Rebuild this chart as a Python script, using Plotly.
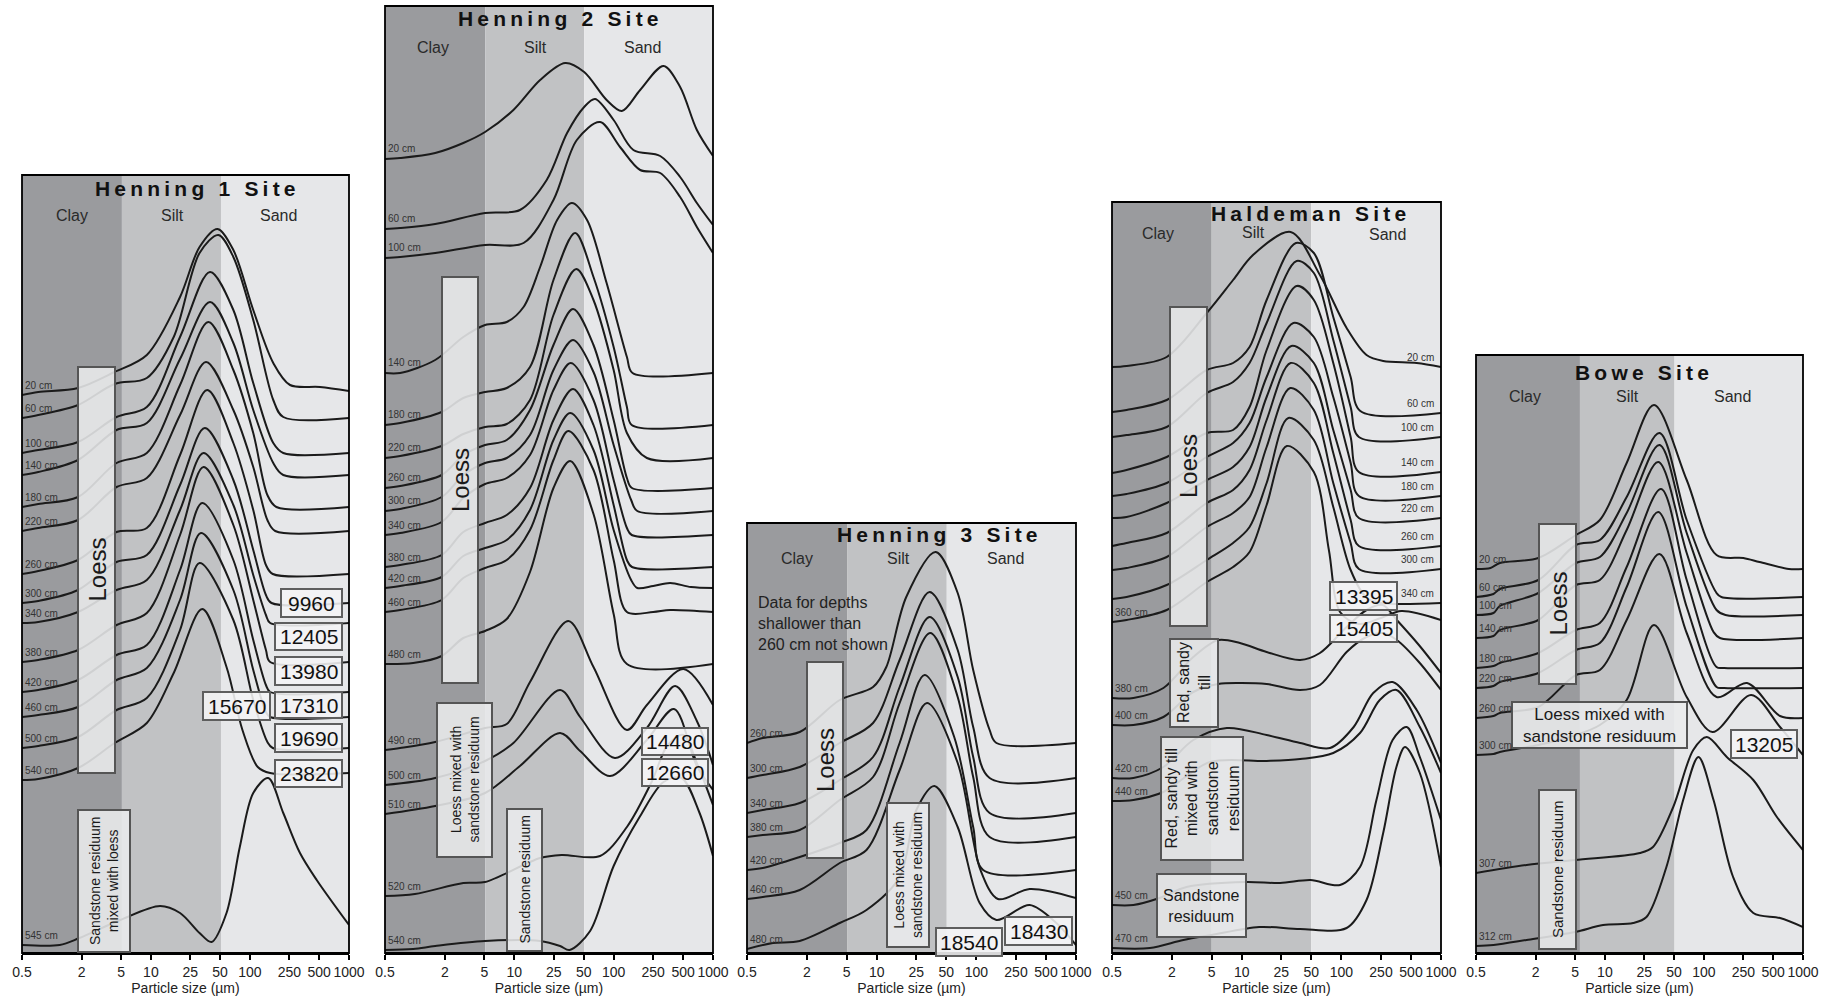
import math
import plotly.graph_objects as go

FONT = "Liberation Sans, Arial, sans-serif"
PAGE_W, PAGE_H = 1834, 996
AXIS_Y = 953  # page row of the shared particle-size axis

TICKS = [0.5, 2, 5, 10, 25, 50, 100, 250, 500, 1000]
TICK_TEXT = ["0.5", "2", "5", "10", "25", "50", "100", "250", "500", "1000"]

# ---------------- Henning 1 Site ----------------
H1_LABELS = ["20 cm", "60 cm", "100 cm", "140 cm", "180 cm", "220 cm", "260 cm",
             "300 cm", "340 cm", "380 cm", "420 cm", "460 cm", "500 cm", "540 cm", "545 cm"]
H1_X = [
    [0.5, 0.73, 1.84, 4.3, 9.1, 19.7, 31, 47, 68, 108, 172, 254, 509, 1000],
    [0.5, 0.73, 1.84, 4.3, 9.1, 17, 31, 48, 68, 108, 172, 217, 1000],
    [0.5, 0.73, 1.84, 4.5, 9.1, 19.7, 39.5, 68, 108, 172, 217, 1000],
    [0.5, 0.73, 1.84, 4.5, 9.1, 19.7, 39.5, 68, 108, 172, 217, 1000],
    [0.5, 0.73, 1.84, 4.5, 9.1, 19.7, 38, 68, 108, 150, 185, 1000],
    [0.5, 0.73, 1.84, 4.5, 9.1, 19.7, 36, 68, 108, 150, 180, 1000],
    [0.5, 0.73, 1.84, 4.5, 9.1, 19.7, 37, 68, 108, 145, 170, 1000],
    [0.5, 0.73, 1.84, 4.5, 9.1, 19.7, 35, 68, 108, 145, 165, 1000],
    [0.5, 0.73, 1.84, 4.5, 9.1, 19.7, 34, 68, 108, 145, 160, 1000],
    [0.5, 0.73, 1.84, 4.5, 9.1, 19.7, 34, 68, 108, 145, 160, 1000],
    [0.5, 0.73, 1.84, 4.5, 9.1, 19.7, 33, 68, 108, 145, 160, 1000],
    [0.5, 0.73, 1.84, 4.5, 9.1, 19.7, 32, 68, 108, 145, 160, 1000],
    [0.5, 0.73, 1.84, 4.5, 9.1, 19.7, 31, 68, 108, 150, 170, 1000],
    [0.5, 0.73, 1.84, 4.3, 9.1, 17, 33, 58, 84, 120, 160, 1000],
    [0.5, 1.2, 1.9, 4.9, 12.4, 19.7, 31, 41, 58, 79, 108, 153, 217, 320, 472, 1000],
]
H1_V = [
    [558, 561, 565, 581, 598, 656, 706, 724, 703, 643, 590, 568, 566, 562],
    [535, 538, 548, 569, 575, 616, 700, 718, 696, 633, 553, 536, 535],
    [500, 503, 511, 536, 546, 616, 681, 643, 570, 510, 500, 500],
    [478, 481, 493, 523, 530, 594, 651, 610, 543, 490, 478, 478],
    [446, 449, 456, 490, 500, 568, 631, 583, 520, 458, 446, 446],
    [422, 425, 433, 466, 475, 538, 591, 543, 486, 433, 422, 422],
    [379, 382, 393, 421, 425, 498, 563, 510, 443, 388, 379, 379],
    [350, 352, 363, 391, 398, 468, 525, 473, 403, 358, 350, 350],
    [330, 331, 341, 363, 373, 443, 500, 448, 378, 338, 330, 330],
    [291, 293, 303, 328, 340, 418, 486, 428, 353, 303, 291, 291],
    [261, 263, 273, 298, 308, 383, 450, 393, 313, 268, 261, 261],
    [236, 238, 246, 273, 285, 353, 420, 363, 283, 241, 236, 236],
    [205, 207, 216, 243, 255, 323, 390, 333, 253, 211, 205, 205],
    [173, 174, 185, 210, 230, 280, 344, 286, 223, 186, 180, 180],
    [8, 8, 15, 33, 47, 40, 20, 11, 40, 106, 160, 175, 140, 100, 73, 28],
]

# ---------------- Henning 2 Site ----------------
H2_LABELS = ["20 cm", "60 cm", "100 cm", "140 cm", "180 cm", "220 cm", "260 cm", "300 cm",
             "340 cm", "380 cm", "420 cm", "460 cm", "480 cm", "490 cm", "500 cm", "510 cm",
             "520 cm", "540 cm"]
H2_X = [
    [0.5, 0.71, 1.6, 3.07, 5.08, 9.8, 18.2, 32.5, 50.5, 85, 121, 185, 318, 467, 688, 1000],
    [0.5, 0.71, 1.6, 5.08, 11.4, 21.2, 34, 50.5, 65, 100, 158, 294, 467, 688, 1000],
    [0.5, 0.71, 1.6, 5.08, 12.4, 24.8, 42.6, 73, 116, 185, 294, 467, 688, 1000],
    [0.5, 0.71, 1.6, 3.07, 5.08, 8.4, 12.4, 18.2, 27, 38, 54, 85, 136, 155, 1000],
    [0.5, 0.71, 1.86, 3.07, 5.08, 8.4, 14.4, 24.8, 41, 62.7, 100, 136, 152, 1000],
    [0.5, 0.71, 1.86, 3.07, 5.08, 8.4, 14.4, 24.8, 42, 62.7, 100, 136, 216, 1000],
    [0.5, 0.71, 1.86, 3.07, 5.08, 8.4, 14.4, 24.8, 39, 62.7, 100, 136, 153, 1000],
    [0.5, 0.71, 1.86, 3.07, 5.08, 8.4, 14.4, 24.8, 39, 62.7, 100, 150, 173, 1000],
    [0.5, 0.71, 1.86, 3.07, 5.08, 8.4, 14.4, 24.8, 37, 62.7, 100, 136, 152, 1000],
    [0.5, 0.71, 1.86, 3.07, 5.08, 8.4, 14.4, 24.8, 39, 62.7, 100, 136, 153, 1000],
    [0.5, 0.71, 1.86, 3.07, 5.08, 8.4, 14.4, 24.8, 36.5, 62.7, 100, 150, 173, 250, 371, 600, 1000],
    [0.5, 0.71, 1.86, 3.07, 5.08, 8.4, 14.4, 24.8, 35, 62.7, 100, 136, 250, 371, 1000],
    [0.5, 0.96, 1.86, 3.07, 5.08, 8.4, 14.4, 24.8, 36.5, 62.7, 100, 136, 1000],
    [0.5, 0.71, 1.6, 5.08, 8.4, 14.4, 35, 62.7, 136, 216, 504, 1000],
    [0.5, 1.6, 5.08, 9.8, 28.9, 46, 103, 216, 416, 688, 1000],
    [0.5, 1.6, 5.08, 11.4, 28.9, 46, 92, 216, 405, 688, 1000],
    [0.5, 1.0, 3.07, 5.08, 18.2, 30, 73, 136, 241, 350, 500, 700, 1000],
    [0.5, 0.96, 1.6, 5.08, 18.2, 28.9, 36, 58, 100, 185, 318, 482, 726, 1000],
]
H2_V = [
    [794, 795, 800, 810, 821, 843, 873, 890, 881, 853, 842, 863, 887, 866, 823, 797],
    [724, 725, 729, 740, 743, 773, 820, 846, 854, 833, 803, 797, 776, 750, 728],
    [695, 696, 700, 708, 710, 753, 813, 831, 806, 783, 780, 756, 726, 700],
    [580, 580, 593, 616, 628, 631, 646, 686, 733, 750, 733, 670, 596, 580, 580],
    [528, 530, 541, 555, 561, 565, 586, 673, 720, 676, 606, 546, 528, 528],
    [495, 497, 507, 519, 526, 529, 553, 638, 684, 653, 583, 520, 495, 495],
    [465, 467, 478, 498, 508, 513, 543, 608, 644, 608, 533, 475, 465, 465],
    [442, 444, 456, 478, 490, 495, 518, 583, 613, 581, 508, 453, 442, 442],
    [418, 420, 431, 455, 469, 475, 498, 563, 590, 553, 473, 425, 418, 418],
    [386, 388, 398, 421, 430, 438, 465, 533, 564, 528, 448, 393, 386, 386],
    [365, 367, 376, 397, 405, 413, 443, 513, 540, 503, 423, 373, 365, 367, 370, 366, 365],
    [341, 343, 353, 375, 385, 393, 423, 493, 522, 483, 393, 341, 341, 343, 341],
    [289, 290, 297, 315, 322, 334, 381, 465, 492, 439, 339, 289, 289],
    [203, 205, 211, 225, 229, 271, 332, 286, 223, 248, 284, 248],
    [168, 175, 192, 210, 263, 236, 195, 225, 267, 232, 188],
    [139, 147, 160, 187, 220, 202, 177, 213, 244, 187, 163],
    [57, 59, 70, 71, 95, 98, 97, 126, 171, 208, 218, 188, 148],
    [3, 4, 7, 12, 12, 7, 3, 22, 87, 137, 171, 175, 141, 97],
]

# ---------------- Henning 3 Site ----------------
H3_LABELS = ["260 cm", "300 cm", "340 cm", "380 cm", "420 cm", "460 cm", "480 cm"]
H3_X = [
    [0.5, 0.72, 1.69, 4.26, 9.2, 12.5, 19.8, 39, 65, 93, 136, 159, 1000],
    [0.5, 0.72, 1.69, 4.26, 9.2, 17, 34, 65, 93, 136, 1000],
    [0.5, 0.72, 1.69, 4.26, 9.2, 17, 34, 65, 93, 136, 1000],
    [0.5, 0.72, 1.69, 4.26, 9.2, 17, 34.5, 65, 93, 136, 1000],
    [0.5, 0.72, 1.69, 4.26, 7.9, 17, 30.3, 60, 93, 117, 1000],
    [0.5, 0.72, 1.69, 4.26, 7.9, 17, 32, 65, 110, 165, 343, 1000],
    [0.5, 0.91, 1.69, 4.26, 7.9, 17, 25, 38, 65, 108, 159, 343, 635, 1000],
]
H3_V = [
    [210, 215, 221, 253, 266, 286, 356, 401, 360, 283, 223, 210, 210],
    [175, 178, 186, 210, 230, 293, 361, 303, 226, 175, 175],
    [140, 143, 150, 173, 196, 266, 336, 276, 196, 140, 140],
    [116, 118, 123, 153, 176, 250, 320, 256, 176, 116, 116],
    [83, 85, 96, 110, 123, 210, 278, 216, 126, 83, 83],
    [54, 56, 63, 90, 103, 183, 250, 190, 83, 54, 64, 55],
    [4, 10, 12, 30, 43, 76, 143, 167, 126, 50, 33, 48, 30, 8],
]

# ---------------- Haldeman Site ----------------
HA_LABELS = ["20 cm", "60 cm", "100 cm", "140 cm", "180 cm", "220 cm", "260 cm", "300 cm",
             "340 cm", "360 cm", "380 cm", "400 cm", "420 cm", "440 cm", "450 cm", "470 cm"]
HA_X = [
    [0.5, 0.7, 1.77, 4.46, 8.2, 13, 31, 61, 113, 179, 263, 570, 1000],
    [0.5, 0.7, 1.77, 4.46, 8.2, 12, 17.8, 35, 53, 83, 124, 155, 1000],
    [0.5, 0.7, 1.77, 4.46, 8.2, 12, 17.8, 35.6, 53, 83, 124, 150, 1000],
    [0.5, 0.7, 1.77, 4.46, 8.2, 12, 17.8, 35.6, 53, 83, 124, 150, 1000],
    [0.5, 0.7, 1.77, 4.46, 8.2, 12, 17.8, 33, 53, 83, 124, 150, 1000],
    [0.5, 0.7, 1.77, 4.46, 8.2, 12, 17.8, 31.5, 53, 83, 124, 150, 1000],
    [0.5, 0.7, 1.77, 4.46, 8.2, 12, 17.8, 31, 53, 83, 124, 150, 1000],
    [0.5, 0.7, 1.77, 4.46, 8.2, 12, 17.8, 30.7, 53, 83, 124, 150, 1000],
    [0.5, 0.7, 1.77, 4.46, 8.2, 12, 17.8, 29.4, 53, 83, 124, 180, 250, 1000],
    [0.5, 0.7, 1.77, 4.46, 8.2, 12, 17.8, 28.4, 53, 75, 97, 150, 250, 400, 1000],
    [0.5, 0.82, 1.64, 3.27, 5.8, 9.6, 17.8, 38.6, 61, 113, 179, 260, 360, 600, 1000],
    [0.5, 0.82, 1.64, 3.27, 5.8, 9.6, 17.8, 38.6, 61, 113, 179, 260, 360, 600, 1000],
    [0.5, 0.82, 1.64, 3.27, 7.1, 17.8, 38.6, 77, 133, 209, 327, 570, 1000],
    [0.5, 0.82, 1.64, 4.8, 17.8, 38.6, 83, 154, 243, 357, 613, 1000],
    [0.5, 0.82, 1.5, 2.8, 11, 24.3, 49, 97, 154, 225, 327, 453, 613, 1000],
    [0.5, 1.2, 2.6, 5, 15, 38.6, 113, 179, 263, 357, 435, 613, 1000],
]
HA_V = [
    [586, 587, 596, 640, 673, 698, 721, 678, 625, 598, 592, 590, 586],
    [541, 543, 553, 583, 590, 606, 653, 710, 700, 636, 576, 542, 540],
    [516, 518, 526, 560, 571, 590, 630, 692, 680, 613, 546, 516, 516],
    [480, 483, 496, 520, 523, 546, 603, 667, 653, 590, 516, 481, 481],
    [457, 459, 470, 496, 510, 530, 576, 630, 616, 556, 490, 457, 457],
    [435, 436, 450, 473, 486, 506, 556, 607, 590, 523, 463, 435, 435],
    [407, 410, 420, 450, 463, 483, 533, 590, 570, 500, 433, 407, 407],
    [383, 385, 396, 426, 440, 456, 506, 565, 543, 470, 410, 384, 384],
    [354, 356, 368, 393, 410, 426, 470, 535, 513, 446, 383, 355, 350, 350],
    [331, 333, 343, 371, 386, 401, 448, 507, 481, 403, 341, 329, 335, 342, 333],
    [255, 255, 265, 296, 313, 310, 301, 293, 300, 326, 343, 348, 333, 308, 280],
    [228, 228, 236, 261, 269, 270, 269, 263, 268, 301, 316, 320, 313, 291, 263],
    [175, 175, 186, 213, 225, 218, 210, 205, 226, 260, 271, 243, 190],
    [152, 153, 161, 191, 192, 194, 200, 220, 253, 263, 226, 180],
    [48, 48, 55, 66, 71, 70, 73, 68, 86, 153, 213, 226, 196, 133],
    [5, 5, 13, 18, 26, 24, 25, 53, 120, 186, 206, 180, 86],
]
HA_RIGHT_LABELLED = 9  # the first nine depths are labelled at the sand end

# ---------------- Bowe Site ----------------
BO_LABELS = ["20 cm", "60 cm", "100 cm", "140 cm", "180 cm", "220 cm", "260 cm",
             "300 cm", "307 cm", "312 cm"]
BO_X = [
    [0.5, 0.7, 0.87, 2.13, 5.1, 8.9, 16.6, 31.3, 67, 134, 250, 364, 720, 1000],
    [0.5, 0.75, 0.87, 2.13, 5.1, 8.9, 16.6, 35.5, 67, 134, 150, 1000],
    [0.5, 0.75, 0.87, 2.13, 5.1, 8.9, 16.6, 35.5, 67, 134, 165, 1000],
    [0.5, 0.75, 0.87, 2.13, 5.1, 8.9, 16.6, 34.5, 67, 125, 145, 1000],
    [0.5, 0.75, 0.87, 2.13, 5.1, 8.9, 16.6, 36.8, 67, 134, 160, 1000],
    [0.5, 0.75, 0.87, 2.13, 5.1, 8.9, 16.6, 34.5, 67, 134, 160, 1000],
    [0.5, 0.75, 0.87, 2.13, 5.1, 8.9, 16.6, 35.5, 67, 134, 272, 586, 1000],
    [0.5, 0.75, 0.87, 2.13, 5.1, 8.9, 16.6, 31.3, 67, 122, 300, 586, 1000],
    [0.5, 1.62, 5, 22.6, 30.6, 49, 78, 107, 170, 315, 545, 1000],
    [0.5, 0.75, 1.62, 5, 9.6, 19.3, 26.3, 41.8, 61.7, 88, 125, 197, 315, 586, 1000],
]
BO_V = [
    [384, 385, 390, 395, 418, 433, 490, 548, 473, 398, 395, 391, 384, 384],
    [356, 359, 364, 373, 408, 413, 456, 520, 433, 360, 356, 356],
    [338, 340, 347, 360, 390, 396, 440, 508, 420, 343, 338, 338],
    [315, 317, 323, 333, 368, 373, 423, 491, 400, 321, 315, 315],
    [285, 287, 290, 300, 323, 330, 386, 464, 373, 286, 285, 285],
    [265, 267, 271, 280, 303, 310, 366, 441, 346, 266, 265, 265],
    [235, 237, 240, 246, 278, 283, 333, 399, 320, 256, 270, 237, 235],
    [198, 199, 201, 208, 218, 228, 253, 328, 256, 221, 258, 226, 198],
    [80, 88, 93, 100, 106, 146, 203, 216, 196, 173, 136, 103],
    [7, 8, 13, 21, 28, 30, 36, 86, 153, 196, 153, 76, 40, 35, 26],
]

# Texture class boundaries (µm) as drawn in each panel
CLAY_SILT = [5.1, 5.1, 5.05, 5.0, 5.6]
SILT_SAND = [51, 50.5, 50.5, 50, 50.5]

# ---------------- layout geometry (page pixels) ----------------
PANEL_BOX = [(22, 349, 175), (385, 713, 6), (747, 1076, 523), (1112, 1441, 202), (1476, 1803, 355)]
PANEL_TITLES = ["Henning 1 Site", "Henning 2 Site", "Henning 3 Site", "Haldeman Site", "Bowe Site"]
TITLE_POS = [(195, 188), (558, 18), (938, 534), (1308, 213), (1642, 372)]
CLASS_POS = [
    [(72, 215), (172, 215), (278, 215)],
    [(433, 47), (535, 47), (642, 47)],
    [(797, 558), (898, 558), (1005, 558)],
    [(1158, 233), (1253, 232), (1387, 234)],
    [(1525, 396), (1627, 396), (1732, 396)],
]

CLAY_C, SILT_C, SAND_C = "#9a9b9e", "#c1c2c4", "#e6e7e9"
LINE_C = "#1b1b1b"
BOX_FILL = "rgba(234,235,237,0.87)"
NUM_FILL = "rgba(244,244,245,0.88)"
BOX_EDGE = "#555555"


def px_x(px):
    return px / PAGE_W


def px_y(py):
    return 1 - py / PAGE_H


def spaced(text):
    return "\u2009".join(text)


fig = go.Figure()
shapes, annotations = [], []
layout_axes = {}

panels = [
    (H1_LABELS, H1_X, H1_V),
    (H2_LABELS, H2_X, H2_V),
    (H3_LABELS, H3_X, H3_V),
    (HA_LABELS, HA_X, HA_V),
    (BO_LABELS, BO_X, BO_V),
]

for i, ((left, right, top), (labels, xs, vs)) in enumerate(zip(PANEL_BOX, panels)):
    n = i + 1
    sfx = "" if n == 1 else str(n)
    xa, ya = "x" + sfx, "y" + sfx
    layout_axes["xaxis" + sfx] = dict(
        domain=[px_x(left), px_x(right)], anchor=ya, type="log", automargin=False,
        range=[math.log10(0.5), math.log10(1000)],
        tickvals=TICKS, ticktext=TICK_TEXT, ticks="outside", ticklen=5, tickangle=0,
        tickwidth=1.5, tickcolor="black", showline=True, linecolor="black",
        linewidth=2, showgrid=False, zeroline=False, fixedrange=True,
        tickfont=dict(family=FONT, size=14, color="#222"),
        title=dict(text="Particle size (µm)", font=dict(family=FONT, size=14, color="#222"), standoff=3),
    )
    layout_axes["yaxis" + sfx] = dict(
        domain=[px_y(AXIS_Y), px_y(top)], anchor=xa, range=[0, AXIS_Y - top],
        visible=False, fixedrange=True, automargin=False,
    )

    # clay / silt / sand background bands
    for x0, x1, col in [(0.5, CLAY_SILT[i], CLAY_C), (CLAY_SILT[i], SILT_SAND[i], SILT_C),
                        (SILT_SAND[i], 1000, SAND_C)]:
        shapes.append(dict(type="rect", xref=xa, yref=ya + " domain", x0=x0, x1=x1, y0=0, y1=1,
                           fillcolor=col, line=dict(width=0), layer="below"))
    # panel frame
    shapes.append(dict(type="rect", xref=xa + " domain", yref=ya + " domain", x0=0, x1=1, y0=0, y1=1,
                       line=dict(color="black", width=1.8), fillcolor="rgba(0,0,0,0)", layer="above"))

    # distribution curves
    for k, (lab, x, v) in enumerate(zip(labels, xs, vs)):
        fig.add_trace(go.Scatter(
            x=x, y=v, xaxis=xa, yaxis=ya, mode="lines", name=lab, showlegend=False,
            line=dict(color=LINE_C, width=2, shape="spline", smoothing=0.9),
            hoverinfo="skip",
        ))
        on_right = (i == 3 and k < HA_RIGHT_LABELLED)
        annotations.append(dict(
            text=lab, showarrow=False, xref=xa + " domain", yref=ya,
            x=0.985 if on_right else 0.004, xanchor="right" if on_right else "left",
            y=v[-1] if on_right else v[0], yshift=10, yanchor="middle",
            font=dict(family=FONT, size=10, color="#333"),
        ))

    # site title and texture-class names
    tx, ty = TITLE_POS[i]
    annotations.append(dict(text="<b>" + spaced(PANEL_TITLES[i]) + "</b>", x=px_x(tx), y=px_y(ty),
                            xref="paper", yref="paper", showarrow=False, xanchor="center", yanchor="middle",
                            font=dict(family=FONT, size=21, color="#111")))
    for (cx, cy), name in zip(CLASS_POS[i], ["Clay", "Silt", "Sand"]):
        annotations.append(dict(text=name, x=px_x(cx), y=px_y(cy), xref="paper", yref="paper",
                                showarrow=False, xanchor="center", yanchor="middle",
                                font=dict(family=FONT, size=16, color="#2a2a2a")))

# Lithology boxes: (x0, y0, x1, y1, text, font size, angle)
TEXT_BOXES = [
    (78, 367, 115, 773, "Loess", 24, -90),
    (78, 810, 130, 952, "Sandstone residuum<br>mixed with loess", 14, -90),
    (442, 277, 478, 683, "Loess", 24, -90),
    (437, 703, 492, 857, "Loess mixed with<br>sandstone residuum", 14, -90),
    (507, 809, 542, 951, "Sandstone residuum", 14, -90),
    (807, 662, 843, 858, "Loess", 24, -90),
    (887, 803, 929, 947, "Loess mixed with<br>sandstone residuum", 14, -90),
    (1170, 307, 1207, 626, "Loess", 24, -90),
    (1170, 639, 1218, 727, "Red, sandy<br>till", 16, -90),
    (1161, 737, 1243, 860, "Red, sandy till<br>mixed with<br>sandstone<br>residuum", 16, -90),
    (1157, 874, 1246, 937, "Sandstone<br>residuum", 16, 0),
    (1539, 524, 1576, 684, "Loess", 24, -90),
    (1512, 702, 1687, 748, "Loess mixed with<br>sandstone residuum", 17, 0),
    (1539, 790, 1576, 949, "Sandstone residuum", 15, -90),
]
# Radiocarbon age boxes: (x0, y0, x1, y1, age)
AGE_BOXES = [
    (281, 589, 342, 617, "9960"), (275, 623, 342, 650, "12405"), (275, 657, 342, 685, "13980"),
    (203, 692, 270, 720, "15670"), (275, 692, 342, 718, "17310"), (275, 724, 342, 752, "19690"),
    (275, 760, 342, 787, "23820"),
    (642, 728, 708, 755, "14480"), (642, 759, 708, 786, "12660"),
    (936, 928, 1002, 956, "18540"), (1005, 917, 1072, 945, "18430"),
    (1330, 582, 1397, 610, "13395"), (1330, 615, 1397, 642, "15405"),
    (1731, 730, 1797, 758, "13205"),
]

for x0, y0, x1, y1, text, size, ang in TEXT_BOXES:
    shapes.append(dict(type="rect", xref="paper", yref="paper", x0=px_x(x0), x1=px_x(x1),
                       y0=px_y(y1), y1=px_y(y0), fillcolor=BOX_FILL,
                       line=dict(color=BOX_EDGE, width=2), layer="above"))
    annotations.append(dict(text=text, x=px_x((x0 + x1) / 2), y=px_y((y0 + y1) / 2), xref="paper",
                            yref="paper", showarrow=False, textangle=ang, xanchor="center",
                            yanchor="middle", align="center",
                            font=dict(family=FONT, size=size, color="#1a1a1a")))

for x0, y0, x1, y1, age in AGE_BOXES:
    shapes.append(dict(type="rect", xref="paper", yref="paper", x0=px_x(x0), x1=px_x(x1),
                       y0=px_y(y1), y1=px_y(y0), fillcolor=NUM_FILL,
                       line=dict(color="#5e5e5e", width=2), layer="above"))
    annotations.append(dict(text=age, x=px_x((x0 + x1) / 2), y=px_y((y0 + y1) / 2), xref="paper",
                            yref="paper", showarrow=False, xanchor="center", yanchor="middle",
                            font=dict(family=FONT, size=21, color="#111")))

annotations.append(dict(text="Data for depths<br>shallower than<br>260 cm not shown",
                        x=px_x(756), y=px_y(623), xref="paper", yref="paper", showarrow=False,
                        xanchor="left", yanchor="middle", align="left",
                        font=dict(family=FONT, size=16, color="#222")))

fig.update_layout(
    width=PAGE_W, height=PAGE_H, margin=dict(l=0, r=0, t=0, b=0, autoexpand=False),
    paper_bgcolor="white", plot_bgcolor="white", showlegend=False,
    shapes=shapes, annotations=annotations, **layout_axes,
)

fig.write_html("out.html")
